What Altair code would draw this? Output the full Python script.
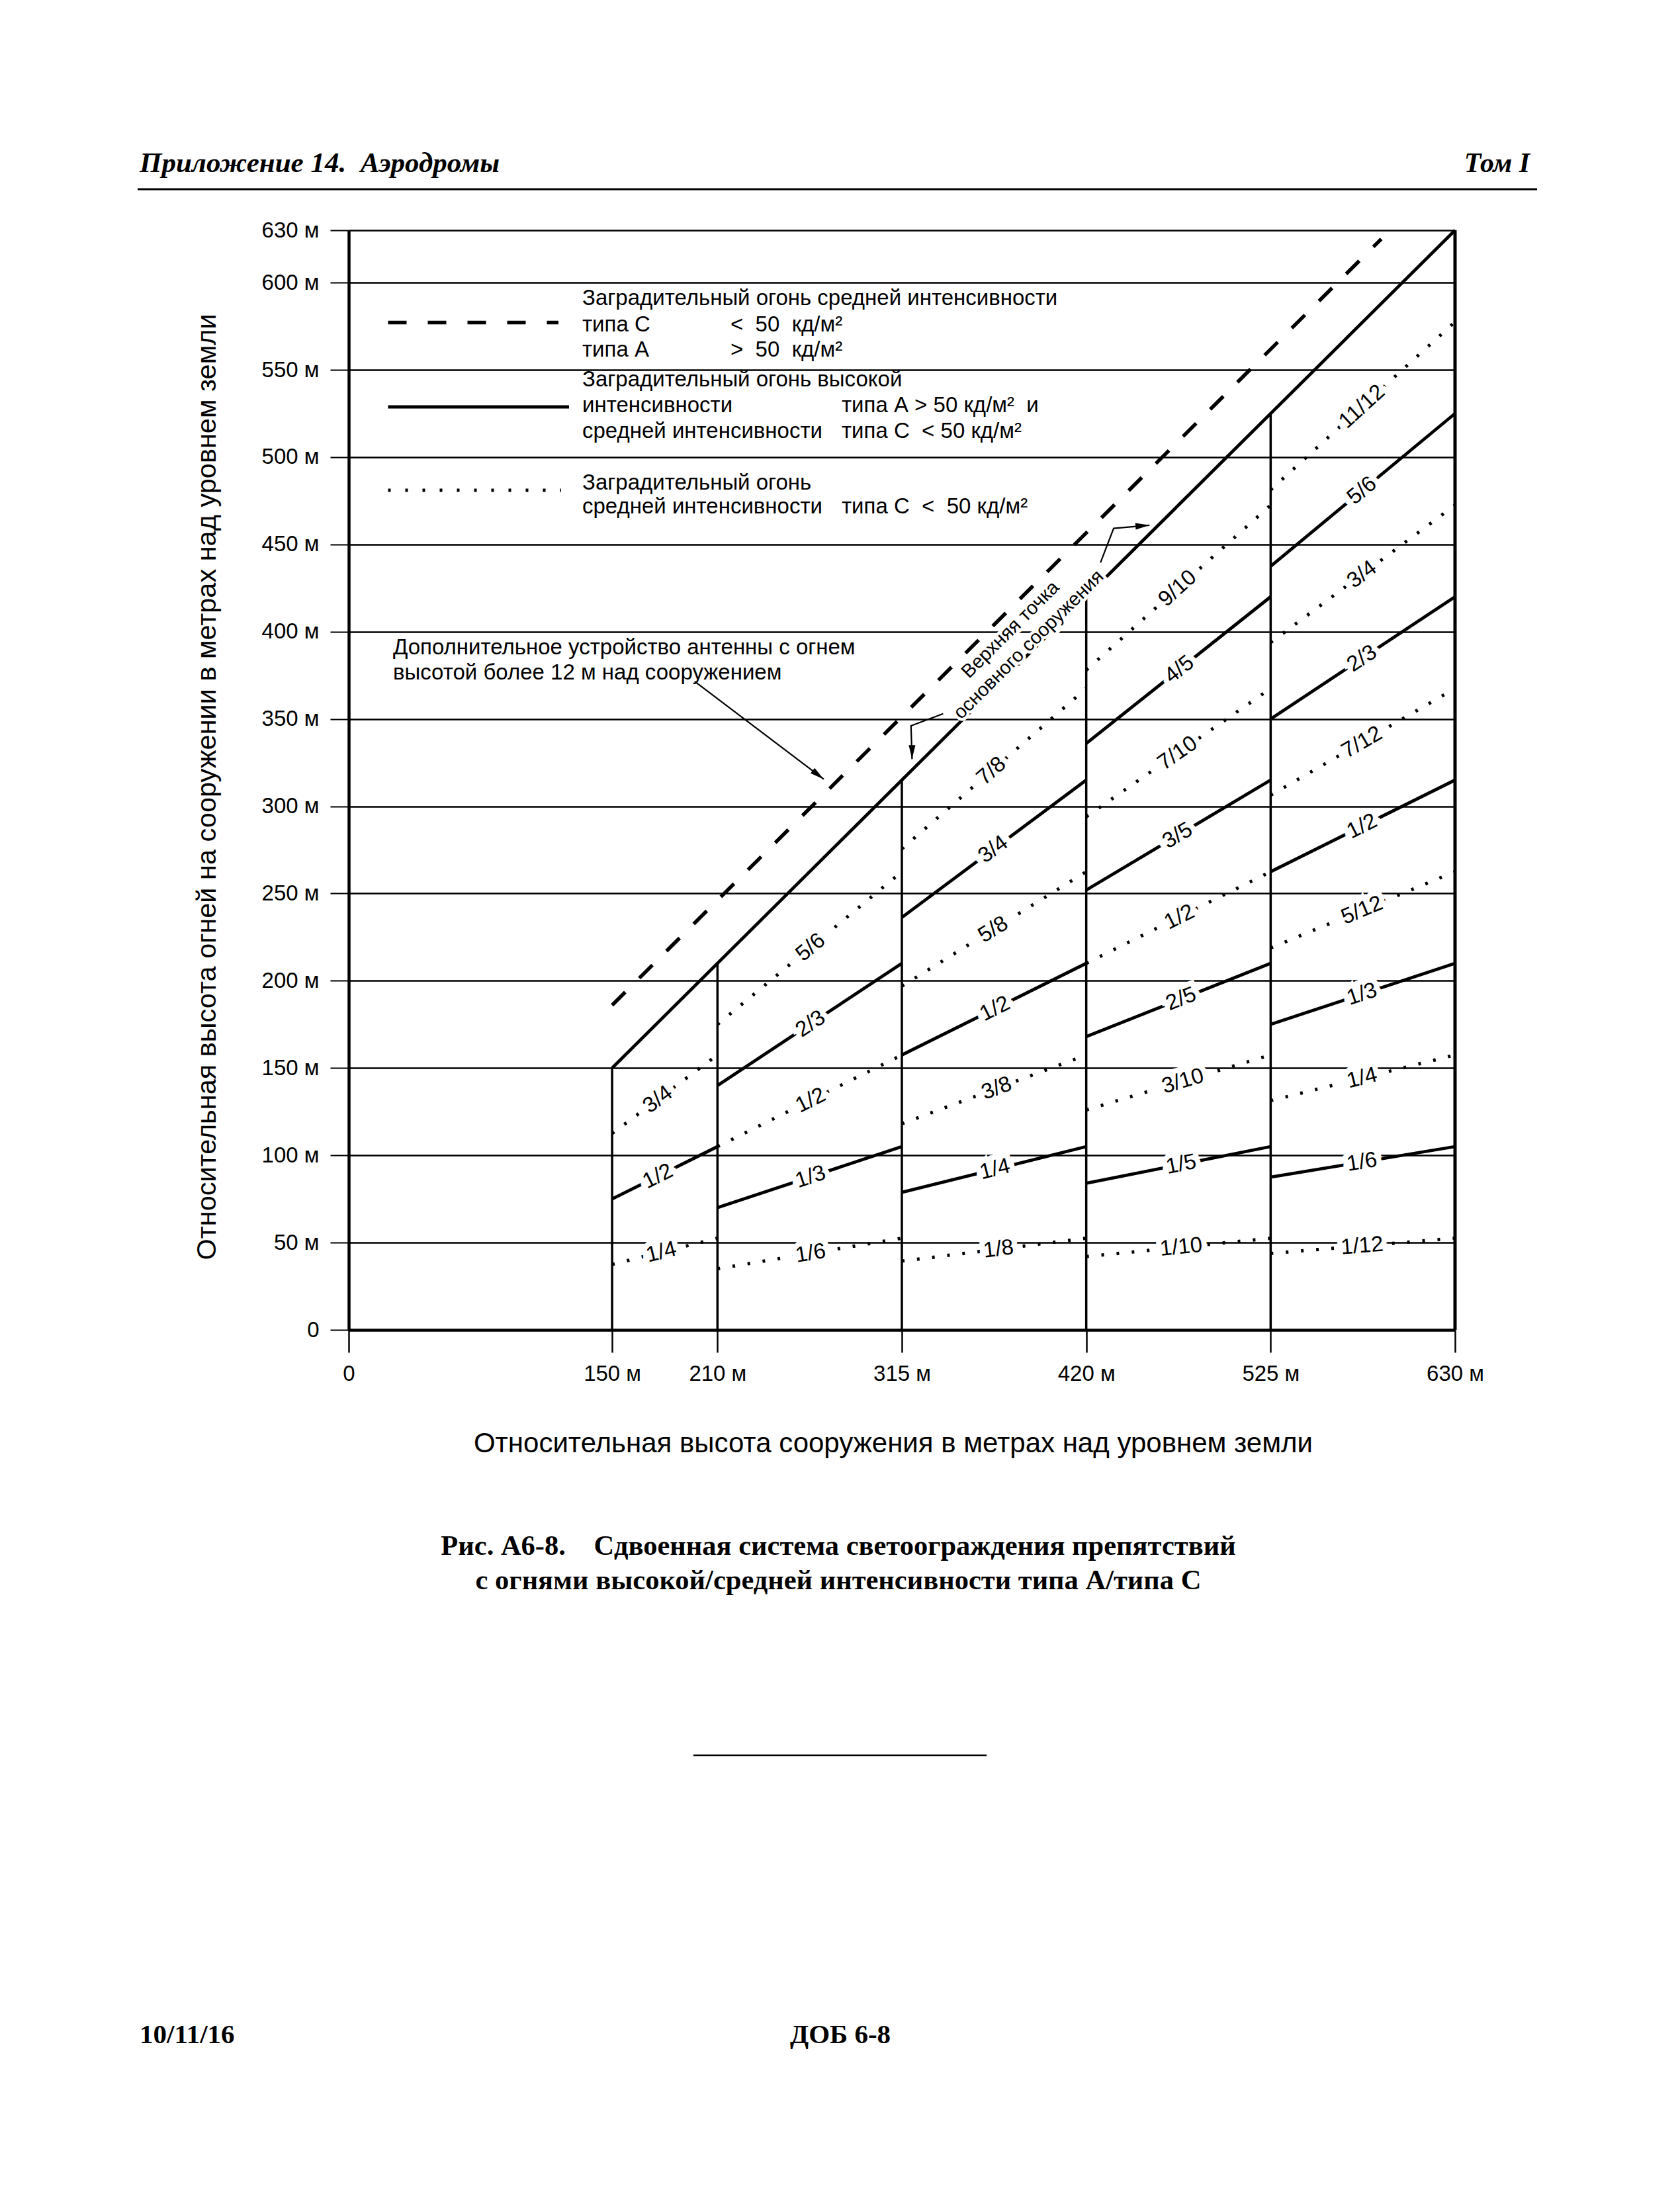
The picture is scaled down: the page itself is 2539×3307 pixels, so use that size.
import math
import altair as alt
import numpy as np
import pandas as pd

# ---------------- data ----------------
x_ticks = [0, 150, 210, 315, 420, 525, 630]
y_ticks = [0, 50, 100, 150, 200, 250, 300, 350, 400, 450, 500, 550, 600, 630]

# vertical lines (structure height steps) and their tops
step_x = [150, 210, 315, 420, 525]
step_top = [150, 210, 315, 420, 525]
border_x = [630]
border_top = [630]

# top of main structure (solid) and antenna (dashed)
top_x0, top_x1, top_y0, top_y1 = [150], [630], [150], [630]
ant_x0, ant_x1, ant_y0, ant_y1 = [150], [588], [186], [625]

seg_x0 = [150, 150, 150,
          210, 210, 210, 210, 210,
          315, 315, 315, 315, 315, 315, 315,
          420, 420, 420, 420, 420, 420, 420, 420, 420,
          525, 525, 525, 525, 525, 525, 525, 525, 525, 525, 525]
seg_x1 = [210, 210, 210,
          315, 315, 315, 315, 315,
          420, 420, 420, 420, 420, 420, 420,
          525, 525, 525, 525, 525, 525, 525, 525, 525,
          630, 630, 630, 630, 630, 630, 630, 630, 630, 630, 630]
seg_y0 = [112.5, 75, 37.5,
          175, 140, 105, 70, 35,
          275.6, 236.3, 196.9, 157.5, 118.1, 78.8, 39.4,
          378, 336, 294, 252, 210, 168, 126, 84, 42,
          481.3, 437.5, 393.8, 350, 306.3, 262.5, 218.8, 175, 131.3, 87.5, 43.8]
seg_y1 = [157.5, 105, 52.5,
          262.5, 210, 157.5, 105, 52.5,
          367.5, 315, 262.5, 210, 157.5, 105, 52.5,
          472.5, 420, 367.5, 315, 262.5, 210, 157.5, 105, 52.5,
          577.5, 525, 472.5, 420, 367.5, 315, 262.5, 210, 157.5, 105, 52.5]
seg_style = ["dot", "solid", "dot",
             "dot", "solid", "dot", "solid", "dot",
             "dot", "solid", "dot", "solid", "dot", "solid", "dot",
             "dot", "solid", "dot", "solid", "dot", "solid", "dot", "solid", "dot",
             "dot", "solid", "dot", "solid", "dot", "solid", "dot", "solid", "dot", "solid", "dot"]
seg_label = ["3/4", "1/2", "1/4",
             "5/6", "2/3", "1/2", "1/3", "1/6",
             "7/8", "3/4", "5/8", "1/2", "3/8", "1/4", "1/8",
             "9/10", "4/5", "7/10", "3/5", "1/2", "2/5", "3/10", "1/5", "1/10",
             "11/12", "5/6", "3/4", "2/3", "7/12", "1/2", "5/12", "1/3", "1/4", "1/6", "1/12"]
label_x = [176, 176, 178,
           263, 263, 263, 263, 263,
           366, 367, 367, 368, 369, 368, 370,
           472, 473, 472, 472, 473, 474, 475, 474, 474,
           577, 577, 577, 577, 577, 577, 577, 577, 577, 577, 577]

# annotation arrows (structure m / light m)
arrow_grp = ["a", "a", "b", "b", "b", "c", "c", "c"]
arrow_ord = [0, 1, 0, 1, 2, 0, 1, 2]
arrow_x = [197, 270.5, 338.5, 320.2, 320.8, 428.1, 435.6, 456]
arrow_y = [371.5, 315.5, 353.0, 346.1, 327.0, 439.6, 459.2, 461]
head_x = [270.5, 320.8, 456]
head_y = [315.5, 327.0, 461]
head_ang = [127.6, 180, 85.3]

# ---------------- layout ----------------
W, H = 1672, 1662
SANS = "Liberation Sans, Arial, sans-serif"
SERIF = "Liberation Serif, Times New Roman, serif"

xs = alt.Scale(domain=[0, 630], nice=False, zero=False)
ys = alt.Scale(domain=[0, 630], nice=False, zero=False)

x_axis = alt.Axis(values=x_ticks, labelExpr="datum.value == 0 ? '0' : datum.value + ' м'",
                  grid=False, tickSize=34, tickWidth=2.5, tickColor="black",
                  domainColor="black", domainWidth=4.5, labelFont=SANS, labelFontSize=33,
                  labelColor="black", labelPadding=16, title=None, labelFlush=False,
                  labelOverlap=False)
y_axis = alt.Axis(values=y_ticks, labelExpr="datum.value == 0 ? '0' : datum.value + ' м'",
                  grid=True, gridColor="black", gridWidth=2.5, gridOpacity=1,
                  tickSize=28, tickWidth=2, tickColor="black",
                  domainColor="black", domainWidth=4.5, labelFont=SANS, labelFontSize=33,
                  labelColor="black", labelPadding=17, title=None, labelFlush=False,
                  labelOverlap=False)


def X(f):
    return alt.X(f, scale=xs, axis=x_axis)


def Y(f):
    return alt.Y(f, scale=ys, axis=y_axis)


one = pd.DataFrame({"d": [0]})

steps = pd.DataFrame({"x": step_x, "y0": [0] * len(step_x), "y1": step_top})
border = pd.DataFrame({"x": border_x, "y0": [0], "y1": border_top})
segs = pd.DataFrame({"x0": seg_x0, "x1": seg_x1, "y0": seg_y0, "y1": seg_y1,
                     "style": seg_style, "label": seg_label, "lx": label_x})
segs["ly"] = segs.y0 + (segs.y1 - segs.y0) * (segs.lx - segs.x0) / (segs.x1 - segs.x0)
segs["ang"] = 360 - np.degrees(np.arctan((segs.y1 - segs.y0) / (segs.x1 - segs.x0) * (H / W)))

layers = []

# vertical structure lines
layers.append(alt.Chart(steps).mark_rule(color="black", strokeWidth=3.5).encode(
    x=X("x:Q"), y=Y("y0:Q"), y2="y1:Q"))
layers.append(alt.Chart(border).mark_rule(color="black", strokeWidth=5).encode(
    x=X("x:Q"), y=Y("y0:Q"), y2="y1:Q"))


def rule_layer(df, **mk):
    return alt.Chart(df).mark_rule(color="black", **mk).encode(
        x=X("x0:Q"), x2="x1:Q", y=Y("y0:Q"), y2="y1:Q")


top_df = pd.DataFrame({"x0": top_x0, "x1": top_x1, "y0": top_y0, "y1": top_y1})
ant_df = pd.DataFrame({"x0": ant_x0, "x1": ant_x1, "y0": ant_y0, "y1": ant_y1})

layers.append(rule_layer(segs[segs["style"] == "solid"], strokeWidth=4.8))
layers.append(rule_layer(segs[segs["style"] == "dot"], strokeWidth=5, strokeDash=[4, 19], strokeCap="butt"))
layers.append(rule_layer(top_df, strokeWidth=4.8))
layers.append(rule_layer(ant_df, strokeWidth=5.5, strokeDash=[28, 30], strokeCap="butt"))

# fraction labels with white halo
lab_enc = dict(x=X("lx:Q"), y=Y("ly:Q"), text="label:N", angle=alt.Angle("ang:Q", scale=None))
LFS = 33
layers.append(alt.Chart(segs).mark_text(font=SANS, fontSize=LFS, align="center", baseline="middle",
                                        stroke="white", strokeWidth=16, color="white").encode(**lab_enc))
layers.append(alt.Chart(segs).mark_text(font=SANS, fontSize=LFS, align="center", baseline="middle",
                                        color="black").encode(**lab_enc))

# arrows
arr = pd.DataFrame({"g": arrow_grp, "o": arrow_ord, "x": arrow_x, "y": arrow_y})
layers.append(alt.Chart(arr).mark_line(color="black", strokeWidth=2.2).encode(
    x=X("x:Q"), y=Y("y:Q"), detail="g:N", order="o:Q"))
heads = pd.DataFrame({"x": head_x, "y": head_y, "a": head_ang})
layers.append(alt.Chart(heads).mark_point(shape="M0,0L-0.38,1.6L0.38,1.6Z", filled=True,
                                          color="black", opacity=1, size=700).encode(
    x=X("x:Q"), y=Y("y:Q"), angle=alt.Angle("a:Q", scale=None)))


def txt(text, x, y, size, font=SANS, weight="normal", style="normal", align="left",
        baseline="middle", angle=0):
    return [alt.Chart(one).mark_text(text=text, font=font, fontSize=size, fontWeight=weight,
                                     fontStyle=style, align=align, baseline=baseline,
                                     color="black", angle=angle).encode(x=alt.value(x), y=alt.value(y))]


def hrule(x0, x1, y, w, dash=None):
    mk = dict(color="black", strokeWidth=w, strokeCap="butt")
    if dash:
        mk["strokeDash"] = dash
    return alt.Chart(one).mark_rule(**mk).encode(x=alt.value(x0), x2=alt.value(x1), y=alt.value(y))


NB = "\u00a0"

# legend
layers.append(hrule(59.5, 317, 139.4, 5.5, [28, 32]))
layers.append(hrule(59.5, 333, 267, 5))
layers.append(hrule(59.5, 321, 393, 5, [4, 22]))
leg_fs = 33
layers += txt("Заградительный огонь средней интенсивности", 353, 102.7, leg_fs)
layers += txt("типа С", 353, 142.6, leg_fs)
layers += txt("<" + NB + " 50" + NB + " кд/м²", 577, 142.6, leg_fs)
layers += txt("типа А", 353, 180.9, leg_fs)
layers += txt(">" + NB + " 50" + NB + " кд/м²", 577, 180.9, leg_fs)
layers += txt("Заградительный огонь высокой", 353, 225.5, leg_fs)
layers += txt("интенсивности", 353, 265.4, leg_fs)
layers += txt("типа А > 50 кд/м²" + NB + " и", 745, 265.4, leg_fs)
layers += txt("средней интенсивности", 353, 303.6, leg_fs)
layers += txt("типа С" + NB + " < 50 кд/м²", 745, 303.6, leg_fs)
layers += txt("Заградительный огонь", 353, 381.8, leg_fs)
layers += txt("средней интенсивности", 353, 418.4, leg_fs)
layers += txt("типа С" + NB + " <" + NB + " 50 кд/м²", 745, 418.4, leg_fs)

# annotation
layers += txt("Дополнительное устройство антенны с огнем", 67, 631, 33)
layers += txt("высотой более 12 м над сооружением", 67, 668.7, 33)

# rotated note along main line (data coordinates)
note = pd.DataFrame({"x": [376.8, 387.2], "y": [401.2, 392.6], "t": ["Верхняя точка", "основного сооружения"]})
for col, sw in (("white", 9), ("black", 0)):
    mk = dict(font=SANS, fontSize=29, align="center", baseline="middle", angle=315.2, color=col)
    if sw:
        mk.update(stroke="white", strokeWidth=sw)
    layers.append(alt.Chart(note).mark_text(**mk).encode(x=X("x:Q"), y=Y("y:Q"), text="t:N"))

# axis titles
layers += txt("Относительная высота огней на сооружении в метрах над уровнем земли", -201, 841.5, 41.5,
              align="center", baseline="alphabetic", angle=270)
layers += txt("Относительная высота сооружения в метрах над уровнем земли", 823, 1847, 42,
              align="center", baseline="alphabetic")

# page header
layers += txt("Приложение 14." + NB + " Аэродромы", -316, -88, 43, font=SERIF, weight="bold",
              style="italic", baseline="alphabetic")
layers += txt("Том I", 1785, -88, 42, font=SERIF, weight="bold", style="italic", align="right",
              baseline="alphabetic")
layers.append(hrule(-319, 1796, -62, 3))

# caption
layers += txt("Рис. А6-8." + NB * 4 + "Сдвоенная система светоограждения препятствий", 740, 2002, 42.5,
              font=SERIF, weight="bold", align="center", baseline="alphabetic")
layers += txt("с огнями высокой/средней интенсивности типа А/типа С", 740, 2054, 42.5,
              font=SERIF, weight="bold", align="center", baseline="alphabetic")
layers.append(hrule(521, 964, 2305, 2.5))

# footer
layers += txt("10/11/16", -316, 2740, 41, font=SERIF, weight="bold", baseline="alphabetic")
layers += txt("ДОБ 6-8", 743, 2740, 41, font=SERIF, weight="bold", align="center", baseline="alphabetic")

chart = alt.layer(*layers).properties(
    width=W, height=H,
    padding={"left": 527, "top": 348, "right": 340, "bottom": 1297},
    autosize=alt.AutoSizeParams(type="none"),
    background="white",
).configure_view(stroke=None)

chart.save("out.html", embed_options={"renderer": "svg", "actions": False})
